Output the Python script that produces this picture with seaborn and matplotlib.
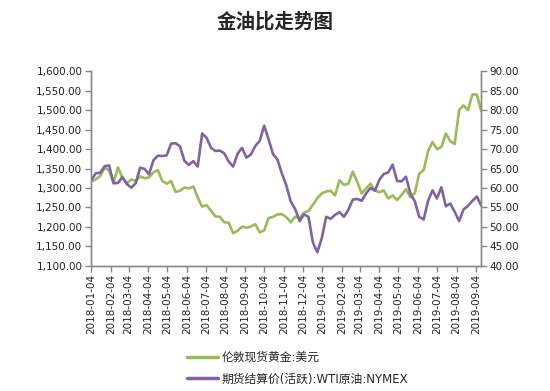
import pandas as pd
import matplotlib.pyplot as plt
import matplotlib.dates as mdates
import matplotlib.ticker as mticker
from matplotlib.lines import Line2D
import seaborn as sns

# weekly readings, starting 2018-01-04
gold = [1317, 1322, 1331, 1352, 1345, 1313, 1353, 1326,
        1312, 1322, 1318, 1330, 1325, 1327, 1340, 1346, 1318,
        1311, 1318, 1290, 1293, 1301, 1299, 1304, 1276, 1252,
        1256, 1242, 1227, 1226, 1212, 1211, 1184, 1190, 1201,
        1198, 1201, 1207, 1186, 1191, 1223, 1226, 1232,
        1233, 1225, 1212, 1226, 1223, 1237, 1241, 1257, 1274,
        1286, 1291, 1293, 1281, 1320, 1308, 1311, 1342, 1316,
        1286, 1299, 1311, 1294, 1289, 1294, 1273, 1281,
        1269, 1282, 1297, 1276, 1287, 1337, 1346, 1395, 1418,
        1400, 1405, 1440, 1420, 1413, 1500, 1512, 1500, 1540,
        1540, 1498]
wti = [62.0, 63.8, 63.9, 65.6, 65.8, 61.2, 61.3, 62.8,
       61.0, 60.1, 61.2, 65.2, 64.9, 63.5, 67.1, 68.3, 68.2,
       68.4, 71.4, 71.5, 70.7, 67.0, 65.9, 66.9, 65.5, 74.0,
       72.9, 70.3, 69.5, 69.6, 68.9, 66.8, 65.5, 68.8, 70.3,
       67.8, 68.6, 70.8, 72.1, 76.0, 72.5, 68.7, 67.3,
       63.7, 60.7, 56.5, 54.6, 51.5, 53.2, 52.6, 46.0, 43.5,
       47.1, 52.6, 52.1, 53.1, 53.8, 52.6, 54.4, 57.0, 57.2,
       56.7, 58.6, 60.0, 59.3, 62.1, 63.6, 64.0, 66.0,
       61.8, 61.7, 62.9, 58.6, 56.6, 52.6, 51.9, 56.7, 59.4,
       57.3, 60.2, 55.3, 56.0, 53.9, 51.5, 54.5, 55.4, 56.7,
       57.8, 55.5]
dates = pd.date_range('2018-01-04', periods=len(gold), freq='7D')
month_ticks = pd.date_range('2018-01-01', '2019-09-01', freq='MS') + pd.Timedelta(days=3)

gold_label = '伦敦现货黄金:美元'
wti_label = '期货结算价(活跃):WTI原油:NYMEX'
green = '#9BBB59'
purple = '#8064A2'

df = pd.DataFrame({'date': dates, 'gold': gold, 'wti': wti})

sns.set_style('white')
plt.rcParams['font.family'] = ['DejaVu Sans', 'Noto Sans CJK SC']

fig = plt.figure(figsize=(5.5, 3.91), dpi=100)
ax = fig.add_axes([0.165, 0.32, 0.71, 0.498])
ax2 = ax.twinx()

sns.lineplot(data=df, x='date', y='gold', ax=ax, color=green, linewidth=1.9)
sns.lineplot(data=df, x='date', y='wti', ax=ax2, color=purple, linewidth=1.9)

ax.set_ylim(1100, 1600)
ax.set_yticks(range(1100, 1601, 50))
ax.yaxis.set_major_formatter(mticker.FuncFormatter(lambda v, p: f'{v:,.2f}'))
ax2.set_ylim(40, 90)
ax2.set_yticks(range(40, 91, 5))
ax2.yaxis.set_major_formatter(mticker.FuncFormatter(lambda v, p: f'{v:.2f}'))

ax.set_xlim(pd.Timestamp('2018-01-03'), pd.Timestamp('2019-09-12'))
ax.set_xticks(month_ticks)
ax.xaxis.set_major_formatter(mdates.DateFormatter('%Y-%m-%d'))
for lbl in ax.get_xticklabels():
    lbl.set_rotation(90)

for a in (ax, ax2):
    a.set_xlabel('')
    a.set_ylabel('')
    a.spines['top'].set_visible(False)
    for s in ('left', 'right', 'bottom'):
        a.spines[s].set_color('#888888')
        a.spines[s].set_linewidth(1)
    a.tick_params(axis='both', which='major', length=4, width=1, color='#888888',
                  labelsize=7.5, labelcolor='#222222', direction='out', pad=2)
ax.tick_params(left=True, bottom=True)
ax2.tick_params(right=True)

fig.text(0.5, 0.944, '金油比走势图', ha='center', va='center', fontsize=14,
         fontweight='bold', family=['Noto Sans CJK SC'])

handles = [Line2D([], [], color=green, lw=2.5), Line2D([], [], color=purple, lw=2.5)]
fig.legend(handles, [gold_label, wti_label], loc='upper left',
           bbox_to_anchor=(0.34, 0.103), frameon=False,
           handlelength=2.6, handletextpad=0.3, labelspacing=0.75,
           borderpad=0, borderaxespad=0,
           prop={'family': ['DejaVu Sans', 'Noto Sans CJK SC'], 'size': 8.5})

fig.savefig('out.png', dpi=100)
